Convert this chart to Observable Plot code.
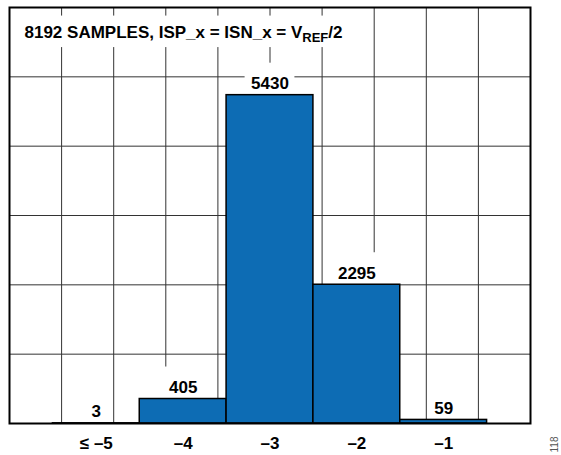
<!DOCTYPE html>
<html>
<head>
<meta charset="utf-8">
<script src="https://cdn.jsdelivr.net/npm/d3@7"></script>
<script src="https://cdn.jsdelivr.net/npm/@observablehq/plot@0.6"></script>
<style>
  html, body { margin: 0; padding: 0; background: white; }
</style>
</head>
<body>
<div id="chart"></div>
<script>
const bins = [-5, -4, -3, -2, -1];
const counts = [3, 405, 5430, 2295, 59];
const tickLabels = ["≤ –5", "–4", "–3", "–2", "–1"];
const titleMain = "8192 SAMPLES, ISP_x = ISN_x = V";
const titleSub = "REF";
const titleEnd = "/2";
const figureId = "118";
const xDomain = [-6, 0];
const yMax = 6880;
const gridXCount = 10;
const gridYCount = 6;

const W = 561, H = 455, mL = 9, mR = 31, mT = 7, mB = 32;
const labelSize = 17;
const pxPerX = (W - mL - mR) / (xDomain[1] - xDomain[0]);

const data = bins.map((b, i) => ({bin: b, count: counts[i], label: tickLabels[i], value: String(counts[i])}));
const gridX = d3.range(gridXCount + 1).map(i => xDomain[0] + (xDomain[1] - xDomain[0]) * i / gridXCount);
const gridY = d3.range(gridYCount + 1).map(i => yMax * i / gridYCount);

// half width (in x units) of the white knockout box behind each value label
const halfBox = d => (d.value.length * 0.556 * labelSize / 2 + 6) / pxPerX;

const font = "'Liberation Sans', Arial, Helvetica, sans-serif";

const chart = Plot.plot({
  width: W,
  height: H,
  marginLeft: mL,
  marginRight: mR,
  marginTop: mT,
  marginBottom: mB,
  x: {domain: xDomain, axis: null},
  y: {domain: [0, yMax], axis: null},
  style: {fontFamily: font, background: "white", overflow: "visible"},
  marks: [
    Plot.ruleX(gridX, {stroke: "#333", strokeWidth: 1}),
    Plot.ruleY(gridY, {stroke: "#333", strokeWidth: 1}),
    // knockout boxes behind value labels
    Plot.rect(data, {x1: d => d.bin - halfBox(d), x2: d => d.bin + halfBox(d), y1: "count", y2: "count", insetTop: -32, fill: "white"}),
    Plot.rectY(data, {x1: d => d.bin - 0.5, x2: d => d.bin + 0.5, y: "count", fill: "#0d6cb4", stroke: "black", strokeWidth: 1.5}),
    Plot.text(data, {x: "bin", y: "count", text: "value", lineAnchor: "bottom", dy: -6, fontSize: labelSize, fontWeight: "bold", fill: "black"}),
    Plot.text(data, {x: "bin", text: "label", frameAnchor: "bottom", lineAnchor: "bottom", dy: 25, fontSize: labelSize, fontWeight: "bold", fill: "black"}),
    Plot.text([titleMain], {frameAnchor: "top-left", textAnchor: "start", lineAnchor: "top", dx: 15, dy: 18, fontSize: 17, fontWeight: "bold", fill: "black", className: "chart-title"}),
    Plot.frame({stroke: "black", strokeWidth: 2}),
    Plot.text([figureId], {frameAnchor: "bottom-right", dx: 24, dy: 21, rotate: -90, textAnchor: "middle", lineAnchor: "middle", fontSize: 10, fill: "#555"})
  ]
});

document.getElementById("chart").appendChild(chart);

// title subscript + white knockout behind title
const ns = "http://www.w3.org/2000/svg";
const tg = chart.querySelector(".chart-title");
const t = tg && tg.querySelector("text");
if (t) {
  t.textContent = titleMain;
  const s1 = document.createElementNS(ns, "tspan");
  s1.setAttribute("font-size", "13");
  s1.setAttribute("dy", "4.5");
  s1.textContent = titleSub;
  const s2 = document.createElementNS(ns, "tspan");
  s2.setAttribute("dy", "-4.5");
  s2.textContent = titleEnd;
  t.appendChild(s1);
  t.appendChild(s2);
  const bb = t.getBBox();
  const r = document.createElementNS(ns, "rect");
  r.setAttribute("x", bb.x - 10);
  r.setAttribute("y", bb.y - 7);
  r.setAttribute("width", bb.width + 20);
  r.setAttribute("height", bb.height + 9);
  r.setAttribute("fill", "white");
  const tr = t.getAttribute("transform");
  if (tr) r.setAttribute("transform", tr);
  tg.insertBefore(r, t);
}
</script>
</body>
</html>
